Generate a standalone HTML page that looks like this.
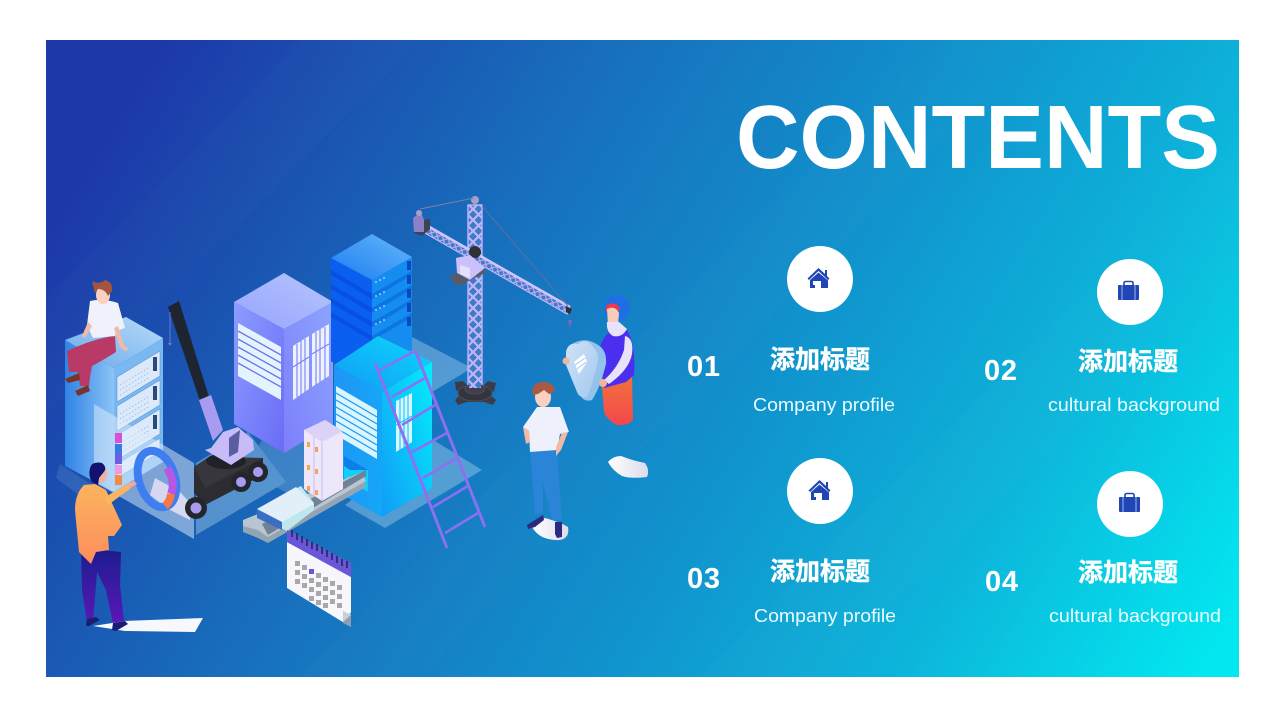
<!DOCTYPE html>
<html><head><meta charset="utf-8"><style>
html,body{margin:0;padding:0;background:#fff;width:1280px;height:720px;overflow:hidden}
svg{display:block}
.n{font:bold 29px "Liberation Sans","Noto Sans CJK SC",sans-serif;fill:#fff}
.h{font:bold 25px "Liberation Sans","Noto Sans CJK SC",sans-serif;fill:#fff;stroke:#fff;stroke-width:.4}
.s{font:18px "Liberation Sans","Noto Sans CJK SC",sans-serif;fill:#eafcff}
</style></head><body>
<svg width="1280" height="720" viewBox="0 0 1280 720" xmlns="http://www.w3.org/2000/svg">
<defs>
<linearGradient id="bg" gradientUnits="userSpaceOnUse" x1="150" y1="70" x2="1190" y2="700">
<stop offset="0" stop-color="#1d39a9"/><stop offset=".14" stop-color="#1a52b1"/><stop offset=".32" stop-color="#1870bd"/><stop offset=".55" stop-color="#1190cc"/><stop offset=".78" stop-color="#0db4da"/><stop offset="1" stop-color="#02e8f0"/></linearGradient>
<linearGradient id="srvL" x1="0" x2="1" y1="0" y2="0"><stop offset="0" stop-color="#2f82e6"/><stop offset="1" stop-color="#8cc4f5"/></linearGradient>
<linearGradient id="srvT" x1="0" x2="1" y1="1" y2="0"><stop offset="0" stop-color="#69a9ea"/><stop offset="1" stop-color="#b7dcf8"/></linearGradient>
<linearGradient id="lavL" x1="0" x2="1" y1="0" y2="1"><stop offset="0" stop-color="#8d9cff"/><stop offset="1" stop-color="#6a6cf6"/></linearGradient>
<linearGradient id="lavR" x1="0" x2="1" y1="1" y2="0"><stop offset="0" stop-color="#7d7ffa"/><stop offset="1" stop-color="#8da4ff"/></linearGradient>
<linearGradient id="lavT" x1="0" x2="1" y1="1" y2="0"><stop offset="0" stop-color="#98a4fd"/><stop offset="1" stop-color="#b5c4ff"/></linearGradient>
<linearGradient id="bluT" x1="0" x2="1" y1="1" y2="0"><stop offset="0" stop-color="#1e7df0"/><stop offset="1" stop-color="#63b8fb"/></linearGradient>
<linearGradient id="cyL" x1="0" x2="1" y1="0" y2="0"><stop offset="0" stop-color="#1f95f5"/><stop offset="1" stop-color="#15a6f8"/></linearGradient>
<linearGradient id="cyR" x1="0" x2="1" y1="1" y2="0"><stop offset="0" stop-color="#119cf6"/><stop offset="1" stop-color="#04edfb"/></linearGradient>
<linearGradient id="cyT" x1="0" x2="1" y1="1" y2="0"><stop offset="0" stop-color="#129af6"/><stop offset="1" stop-color="#0cd8fa"/></linearGradient>
<linearGradient id="org" x1="0" x2="0" y1="0" y2="1"><stop offset="0" stop-color="#fbb45f"/><stop offset="1" stop-color="#fc8d5c"/></linearGradient>
<linearGradient id="pur" x1="0" x2="0" y1="0" y2="1"><stop offset="0" stop-color="#1b1c8e"/><stop offset="1" stop-color="#5a18b8"/></linearGradient>
<linearGradient id="red" x1="0" x2="0" y1="0" y2="1"><stop offset="0" stop-color="#f0743a"/><stop offset="1" stop-color="#f5464e"/></linearGradient>
<linearGradient id="shield" x1="0" x2="1" y1="0" y2="1"><stop offset="0" stop-color="#cfe3f8"/><stop offset="1" stop-color="#a4c8ee"/></linearGradient>
<linearGradient id="blob" x1="0" x2="1" y1="0" y2="0"><stop offset="0" stop-color="#fff"/><stop offset="1" stop-color="#dcdcec"/></linearGradient>
<pattern id="lat" width="11" height="11" patternUnits="userSpaceOnUse"><rect width="11" height="11" fill="#3f7cc8"/><path d="M0 0L11 11M11 0L0 11" stroke="#c2b4f8" stroke-width="2.2"/></pattern>
<pattern id="lat2" width="7" height="7" patternUnits="userSpaceOnUse" patternTransform="rotate(30)"><rect width="7" height="7" fill="#3f78c4"/><path d="M0 0L7 7M7 0L0 7" stroke="#b8acf5" stroke-width="1.3"/></pattern>
</defs>

<rect x="46" y="40" width="1193" height="637" fill="url(#bg)"/>
<g fill="#fff" opacity=".012">
<polygon points="46,300 300,40 420,40 46,420"/>
<polygon points="300,677 940,40 1040,40 420,677"/>
<polygon points="700,677 1239,140 1239,260 820,677"/>
</g>

<!-- title -->
<text x="736" y="168" font-family="Liberation Sans,sans-serif" font-weight="bold" font-size="90" fill="#fff" textLength="484" lengthAdjust="spacingAndGlyphs">CONTENTS</text>

<!-- floors -->
<g fill="#a8d4ee" opacity=".42">
<polygon points="410,336 472,368 432,392 385,380"/>
<polygon points="430,438 482,470 385,528 345,505"/>
<polygon points="196,463 248,432 286,482 196,535"/>
<polygon points="60,464 100,490 92,505 56,478" opacity=".35"/>
<polygon points="262,440 345,440 366,460 300,500 245,470" opacity=".6"/>
</g>

<!-- left server -->
<polygon points="65,340 114,368 114,492 65,466" fill="url(#srvL)"/>
<polygon points="114,368 163,338 163,462 114,492" fill="#7ab8f2"/>
<polygon points="126,317 163,338 114,368 65,340" fill="url(#srvT)"/>
<g fill="#dbe9fa" stroke="#5b93d8" stroke-width=".6">
<polygon points="117,377 160,351 160,376 117,402"/>
<polygon points="117,406 160,380 160,405 117,431"/>
<polygon points="117,435 160,409 160,434 117,460"/>
<polygon points="117,464 160,438 160,452 117,478"/>
</g>
<g stroke="#9fc0ea" stroke-width="1" stroke-dasharray="1.500 2">
<line x1="120" y1="385" x2="150" y2="367"/><line x1="120" y1="390" x2="150" y2="372"/><line x1="120" y1="395" x2="150" y2="377"/>
<line x1="120" y1="414" x2="150" y2="396"/><line x1="120" y1="419" x2="150" y2="401"/><line x1="120" y1="424" x2="150" y2="406"/>
<line x1="120" y1="443" x2="150" y2="425"/><line x1="120" y1="448" x2="150" y2="430"/><line x1="120" y1="453" x2="150" y2="435"/>
</g>
<g fill="#2a4a7a"><rect x="153" y="357" width="4" height="14"/><rect x="153" y="386" width="4" height="14"/><rect x="153" y="415" width="4" height="14"/></g>
<!-- sitting man -->
<path d="M67,351 Q95,338 115,336 L116,352 Q100,362 92,366 L90,377 L89,386 L80,386 L78,372 L69,372 Z" fill="#b93a66"/>
<path d="M65,379 L79,373 L80,380 L68,383 Z" fill="#7a3328"/>
<path d="M75,391 L88,385 L90,391 L78,396 Z" fill="#7a3328"/>
<path d="M90,301 Q103,298 118,303 L125,328 L116,331 L115,336 L93,338 L87,325 Z" fill="#f1f1fb"/>
<path d="M88,322 L82,336 L85,338 L92,326 Z" fill="#f3b9a8"/>
<path d="M118,326 L124,345 L129,349 L125,351 L120,347 L114,328 Z" fill="#f3b9a8"/>
<ellipse cx="103" cy="295" rx="7" ry="9" fill="#fbd0bf"/>
<path d="M92,281 Q99,285 105,280 Q113,282 112,291 L108,296 Q105,289 98,289 L95,293 Z" fill="#a5553f"/>

<!-- glass panel -->
<polygon points="94,404 194,463 194,539 94,482" fill="#dfeefa" opacity=".5"/>
<rect x="115" y="433" width="7" height="10" fill="#d84fd8"/><rect x="115" y="444" width="7" height="10" fill="#3a7ae0"/><rect x="115" y="454" width="7" height="10" fill="#6c60e0"/><rect x="115" y="465" width="7" height="9" fill="#ea9ae8"/><rect x="115" y="475" width="7" height="10" fill="#f58a42"/>
<polygon points="155,478 180,492 192,505 190,520 170,510 150,495" fill="#e6e2f6" opacity=".85"/>
<!-- donut -->
<ellipse cx="157" cy="479" rx="18" ry="29" transform="rotate(-18 157 479)" fill="none" stroke="#3f7ef0" stroke-width="8"/>
<path d="M167,468 Q176,482 171,494" fill="none" stroke="#b657e6" stroke-width="8"/>
<path d="M171,494 Q170,502 165,506" fill="none" stroke="#f5774a" stroke-width="8"/>

<!-- crane truck -->
<polygon points="168,307 179,301 209,397 200,401" fill="#1f2530"/>
<line x1="170" y1="312" x2="170" y2="344" stroke="#6a78c8" stroke-width="1"/>
<polygon points="168,343 172,343 170,346" fill="#8a70c8"/>
<polygon points="199,400 211,395 223,430 213,441" fill="#a99cf0"/>
<polygon points="194,467 209,457 263,458 263,475 205,505 194,493" fill="#2c2c32"/>
<polygon points="194,467 209,457 263,458 205,488" fill="#36363c"/>
<ellipse cx="226" cy="461" rx="20" ry="8" fill="#202228"/>
<polygon points="205,450 211,448 223,432 238,427 253,440 254,450 231,465" fill="#c7bcf8"/>
<polygon points="229,438 240,430 238,452 229,457" fill="#5a5ea0"/>
<circle cx="196" cy="508" r="11" fill="#24262c"/><circle cx="196" cy="508" r="5.500" fill="#a89cf0"/>
<circle cx="241" cy="482" r="10" fill="#24262c"/><circle cx="241" cy="482" r="5" fill="#a89cf0"/>
<circle cx="258" cy="472" r="10" fill="#24262c"/><circle cx="258" cy="472" r="5" fill="#a89cf0"/>

<!-- lavender building -->
<polygon points="234,302 284,329 284,453 234,424" fill="url(#lavL)"/>
<polygon points="284,329 333,302 333,424 284,453" fill="url(#lavR)"/>
<polygon points="284,273 333,302 284,329 234,302" fill="url(#lavT)"/>
<polygon points="238,323 281,347 281,400 238,376" fill="#e4f4ff"/>
<g stroke="#7272e8" stroke-width="1.300"><line x1="238" y1="331" x2="281" y2="355"/><line x1="238" y1="339" x2="281" y2="363"/><line x1="238" y1="347" x2="281" y2="371"/><line x1="238" y1="355" x2="281" y2="379"/><line x1="238" y1="363" x2="281" y2="387"/></g>
<g fill="#eef2ff"><polygon points="293,346 309,336 309,389 293,400"/><polygon points="312,334 329,324 329,376 312,387"/></g>
<g stroke="#7a80f4" stroke-width="1.100"><line x1="297" y1="344" x2="297" y2="397"/><line x1="301" y1="341" x2="301" y2="395"/><line x1="305" y1="339" x2="305" y2="392"/><line x1="316" y1="332" x2="316" y2="385"/><line x1="320" y1="329" x2="320" y2="382"/><line x1="325" y1="327" x2="325" y2="380"/><line x1="293" y1="367" x2="309" y2="357"/><line x1="312" y1="354" x2="329" y2="344"/></g>

<!-- blue stack -->
<polygon points="331,258 372,280 372,362 331,362" fill="#0a5ff0"/>
<polygon points="372,280 412,257 412,350 372,362" fill="#158cf0"/>
<g fill="#0847d8" opacity=".6"><polygon points="331,270 372,294 372,299 331,275"/><polygon points="331,284 372,308 372,313 331,289"/><polygon points="331,298 372,322 372,327 331,303"/><polygon points="331,312 372,336 372,341 331,317"/></g>
<g fill="#0a6be0" opacity=".7"><polygon points="372,294 412,271 412,275 372,299"/><polygon points="372,308 412,285 412,289 372,313"/><polygon points="372,322 412,299 412,303 372,327"/><polygon points="372,336 412,313 412,317 372,341"/></g>
<polygon points="372,234 412,257 372,280 331,258" fill="url(#bluT)"/>
<g fill="#0d47c0"><rect x="407" y="261" width="4" height="9"/><rect x="407" y="275" width="4" height="9"/><rect x="407" y="289" width="4" height="9"/><rect x="407" y="303" width="4" height="9"/><rect x="407" y="317" width="4" height="9"/></g>
<g fill="#bfe0ff"><circle cx="376" cy="282" r=".9"/><circle cx="380" cy="280" r=".9"/><circle cx="384" cy="278" r=".9"/><circle cx="376" cy="296" r=".9"/><circle cx="380" cy="294" r=".9"/><circle cx="384" cy="292" r=".9"/><circle cx="376" cy="310" r=".9"/><circle cx="380" cy="308" r=".9"/><circle cx="384" cy="306" r=".9"/><circle cx="376" cy="324" r=".9"/><circle cx="380" cy="322" r=".9"/><circle cx="384" cy="320" r=".9"/></g>

<!-- cyan building -->
<polygon points="334,365 382,392 382,517 334,490" fill="url(#cyL)"/>
<polygon points="382,392 432,362 432,488 382,517" fill="url(#cyR)"/>
<polygon points="378,336 432,362 382,392 334,365" fill="url(#cyT)"/>
<polygon points="336,386 377,410 377,459 336,435" fill="#d9f5ff"/>
<g stroke="#1d9af5" stroke-width="1.300"><line x1="336" y1="393" x2="377" y2="417"/><line x1="336" y1="400" x2="377" y2="424"/><line x1="336" y1="407" x2="377" y2="431"/><line x1="336" y1="414" x2="377" y2="438"/><line x1="336" y1="421" x2="377" y2="445"/><line x1="336" y1="428" x2="377" y2="452"/></g>
<polygon points="396,401 412,393 412,442 396,452" fill="#d8f8ff"/>
<g stroke="#18c4f8" stroke-width="1.100"><line x1="400" y1="399" x2="400" y2="450"/><line x1="404" y1="397" x2="404" y2="447"/><line x1="408" y1="395" x2="408" y2="445"/><line x1="396" y1="425" x2="412" y2="416"/></g>
<polygon points="344,456 368,470 368,492 344,478" fill="#0fd0f8"/>
<polygon points="344,456 368,470 350,470 344,466" fill="#0c7eea"/>

<!-- conveyor -->
<polygon points="243,523 364,478 366,487 268,543 258,538 243,532" fill="#94a4b4"/>
<polygon points="243,520 362,472 366,481 268,537 258,530 243,526" fill="#b9c6d0"/>
<polygon points="262,524 366,470 366,476 268,535" fill="#6f8296"/>
<!-- slab stack -->
<polygon points="257,509 301,486 314,503 314,510 287,531 257,516" fill="#bfe8ee"/>
<polygon points="257,509 296,487 314,504 282,522" fill="#e2eef8"/>
<polygon points="257,509 282,522 282,530 257,518" fill="#3b6dc4"/>
<!-- tall modules -->
<polygon points="304,430 326,421 343,433 343,489 322,501 304,489" fill="#eee6fb"/>
<polygon points="304,430 325,420 343,431 322,442" fill="#dcd2f8"/>
<line x1="314" y1="436" x2="314" y2="496" stroke="#cabcf0" stroke-width="1"/>
<line x1="322" y1="442" x2="322" y2="500" stroke="#cabcf0" stroke-width="1"/>
<g fill="#f5a35c"><rect x="307" y="442" width="3" height="5"/><rect x="307" y="465" width="3" height="5"/><rect x="307" y="486" width="3" height="5"/><rect x="315" y="447" width="3" height="5"/><rect x="315" y="469" width="3" height="5"/><rect x="315" y="490" width="3" height="5"/></g>

<!-- tower crane -->
<rect x="468" y="205" width="14" height="182" fill="url(#lat)" stroke="#c2b4f8" stroke-width="1.400"/>
<polygon points="426,226 570,308 567,314 423,232" fill="url(#lat2)" stroke="#c9bdfa" stroke-width="1"/>
<line x1="426" y1="225" x2="570" y2="307" stroke="#cfc5fb" stroke-width="2.500"/>
<polygon points="414,221 430,219 430,229 422,236 414,233" fill="#3c4452"/>
<polygon points="413,218 421,212 424,220 424,232 414,232" fill="#8c80c8"/>
<circle cx="419" cy="213" r="3" fill="#a8a0c8"/><circle cx="475" cy="200" r="4" fill="#a8a0c8"/>
<line x1="420" y1="209" x2="474" y2="198" stroke="#7a82a8" stroke-width="1"/>
<line x1="482" y1="206" x2="568" y2="306" stroke="#5c6ea8" stroke-width="1"/>
<polygon points="566,306 572,309 570,314 566,312" fill="#2d3136"/>
<polygon points="568,320 572,320 570,328" fill="#8464b8"/>
<circle cx="475" cy="252" r="6" fill="#2d3136"/>
<polygon points="456,258 470,255 485,268 470,280 457,273" fill="#ccc0fa"/>
<polygon points="449,277 458,286 485,273 485,268 470,280 457,273" fill="#585b66"/>
<polygon points="460,265 470,268 470,278 460,274" fill="#fff" opacity=".5"/>
<!-- base -->
<path d="M455,382 L463,381 L468,386 L483,386 L488,381 L496,383 L494,391 L489,394 L496,400 L493,405 L484,402 L467,402 L458,405 L455,400 L461,394 L456,390Z" fill="#3b3c46"/>
<ellipse cx="475" cy="393" rx="17" ry="8" fill="#33343e" stroke="#4c4e5a"/>
<ellipse cx="475" cy="389" rx="10" ry="5" fill="#3f404c" stroke="#4c4e5a"/>
<rect x="469" y="372" width="12" height="16" fill="url(#lat)"/>

<!-- ladder -->
<g stroke="#8d6ff0" fill="none"><path d="M375,363 L447,548 M415,350 L485,527" stroke-width="3"/>
<path stroke-width="2.600" d="M380,370 L413,352 M392,397 L425,378 M402,425 L435,405 M412,452 L447,433 M423,478 L457,458 M433,507 L468,486 M445,533 L478,513"/></g>

<!-- orange man -->
<path d="M81,548 L121,552 L120,585 L124,622 L113,624 L106,590 L97,572 L93,622 L87,622 L82,590 Z" fill="url(#pur)"/>
<path d="M84,485 L95,484 L106,490 L122,525 L114,536 L108,536 L109,550 L96,552 L91,564 L79,552 L75,510 Q75,494 84,485Z" fill="url(#org)"/>
<path d="M105,497 L128,484 L131,488 L108,505 Z" fill="#fbb45f"/>
<path d="M127,484 L134,481 L137,484 L130,488 Z" fill="#f6a99a"/>
<ellipse cx="100" cy="474" rx="7" ry="9" fill="#f2b0a0"/>
<path d="M90,468 Q92,461 102,463 Q108,468 103,473 L99,478 L98,485 L92,482 Q88,476 90,468Z" fill="#12136e"/>
<!-- shadow -->
<polygon points="93,626 125,621 203,618 195,632 125,631" fill="#f6f8fc"/>
<path d="M87,619 L96,617 L100,620 L89,626 L86,626 Z" fill="#1a1e70"/>
<path d="M113,623 L125,621 L128,624 L116,631 L112,630 Z" fill="#1a1e70"/>

<!-- calendar -->
<polygon points="287,542 351,577 351,627 287,588" fill="#f6f6fb"/>
<polygon points="287,530 351,563 351,577 287,542" fill="#6a56d6"/>
<polygon points="343,622 351,612 351,627 343,623" fill="#8aa0b0"/><polygon points="343,611 351,615 343,622" fill="#c5d0d8"/>
<g stroke="#23285c" stroke-width="1.600"><line x1="292" y1="530" x2="292" y2="537"/><line x1="297" y1="533" x2="297" y2="540"/><line x1="302" y1="536" x2="302" y2="543"/><line x1="307" y1="539" x2="307" y2="546"/><line x1="312" y1="542" x2="312" y2="549"/><line x1="317" y1="544" x2="317" y2="551"/><line x1="322" y1="547" x2="322" y2="554"/><line x1="327" y1="550" x2="327" y2="557"/><line x1="332" y1="553" x2="332" y2="560"/><line x1="337" y1="556" x2="337" y2="563"/><line x1="342" y1="559" x2="342" y2="566"/><line x1="347" y1="561" x2="347" y2="568"/></g>
<g fill="#a8a8ac" transform="translate(0,3)">
<rect x="295" y="558" width="5" height="5"/><rect x="302" y="562" width="5" height="5"/><rect x="309" y="566" width="5" height="5" fill="#6a56d6"/><rect x="316" y="570" width="5" height="5"/><rect x="323" y="574" width="5" height="5"/><rect x="330" y="578" width="5" height="5"/><rect x="337" y="582" width="5" height="5"/>
<rect x="295" y="567" width="5" height="5"/><rect x="302" y="571" width="5" height="5"/><rect x="309" y="575" width="5" height="5"/><rect x="316" y="579" width="5" height="5"/><rect x="323" y="583" width="5" height="5"/><rect x="330" y="587" width="5" height="5"/><rect x="337" y="591" width="5" height="5"/>
<rect x="295" y="576" width="5" height="5"/><rect x="302" y="580" width="5" height="5"/><rect x="309" y="584" width="5" height="5"/><rect x="316" y="588" width="5" height="5"/><rect x="323" y="592" width="5" height="5"/><rect x="330" y="596" width="5" height="5"/><rect x="337" y="600" width="5" height="5"/>
<rect x="309" y="593" width="5" height="5"/><rect x="316" y="597" width="5" height="5"/><rect x="323" y="600" width="5" height="5"/>
</g>

<!-- standing man -->
<path d="M532,527 Q538,519 545,518 Q560,522 568,527 Q570,538 560,540 Q540,541 532,527Z" fill="url(#blob)"/>
<path d="M530,451 L557,449 L562,520 L552,520 L543,483 L543,513 L535,515 Z" fill="#2a84d8"/>
<path d="M527,525 L543,515 L544,520 L535,527 L528,529Z" fill="#2c2a80"/>
<path d="M555,522 L562,522 L562,537 L557,538 L555,534 Z" fill="#2c2a80"/>
<path d="M523,427 L537,407 L560,407 L569,432 L560,434 L557,450 L530,452 L529,431 Z" fill="#eef0fb"/>
<path d="M523,427 L529,431 L530,442 L526,444Z M562,433 L568,432 L561,450 L556,456 L556,447 Z" fill="#f3b9a8"/>
<ellipse cx="543" cy="397" rx="8" ry="10" fill="#fad1c1"/>
<path d="M532,392 Q533,382 543,382 Q554,382 555,391 L549,394 L544,390 L538,394 L533,395Z" fill="#a85b42"/>

<!-- woman -->
<path d="M602,387 L632,375 L633,420 Q628,426 617,425 Q607,420 604,412 Z" fill="url(#red)"/>
<path d="M600,347 Q604,335 612,330 L627,330 Q636,345 634,375 L626,382 L604,388 Z" fill="#4b2ff0"/>
<circle cx="617" cy="308" r="13" fill="#1f6ee6"/>
<path d="M606,306 Q614,300 620,308 L618,312 L606,312Z" fill="#ee3b4a"/>
<path d="M607,309 Q615,305 619,313 L618,325 L608,325Z" fill="#f6cdbb"/>
<path d="M607,322 L619,322 L627,329 Q622,338 613,336 Q606,332 607,322Z" fill="#e8e2fa"/>
<path d="M625,336 Q634,338 632,354 Q629,370 609,384 L604,380 Q618,368 624,350Z" fill="#e9e2f8"/>
<path d="M572,344 Q585,336 598,345 Q607,350 606,364 Q600,388 592,400 Q586,402 582,398 L568,365Z" fill="#93c2ec"/>
<path d="M566,352 Q568,342 578,344 Q587,337 594,348 Q600,354 597,366 Q592,386 587,397 Q580,399 577,392 L566,365Z" fill="url(#shield)"/>
<polygon points="574,362 584,354 587,362 579,374" fill="#fff"/>
<g stroke="#a6c8ec" stroke-width="1"><line x1="575" y1="365" x2="585" y2="358"/><line x1="577" y1="369" x2="586" y2="362"/></g>
<circle cx="566" cy="361" r="3.500" fill="#f3b49c"/>
<circle cx="603" cy="383" r="4" fill="#f3b49c"/>

<!-- blob -->
<path d="M608,462 Q613,456 621,456 Q634,461 645,463 Q650,470 647,477 Q630,479 622,476 Q613,471 608,462Z" fill="url(#blob)"/>

<!-- circles + icons -->
<circle cx="820" cy="279" r="33" fill="#fff"/>
<circle cx="1130" cy="292" r="33" fill="#fff"/>
<circle cx="820" cy="491" r="33" fill="#fff"/>
<circle cx="1130" cy="504" r="33" fill="#fff"/>

<g fill="#1f46b4">
<path d="M818.500,268 L825,274 V270 H827 V276 L829.500,278.500 L828,280 L818.500,271 L809,280 L807.500,278.500 Z"/>
<path d="M810,280 L818.500,272.500 L828,280.500 V288 H821 V281 H815 V288 H810 Z"/>
<rect x="813" y="281" width="5" height="4" fill="#fff"/>
</g>
<g fill="#1f46b4" transform="translate(1,212)">
<path d="M818.500,268 L825,274 V270 H827 V276 L829.500,278.500 L828,280 L818.500,271 L809,280 L807.500,278.500 Z"/>
<path d="M810,280 L818.500,272.500 L828,280.500 V288 H821 V281 H815 V288 H810 Z"/>
<rect x="813" y="281" width="5" height="4" fill="#fff"/>
</g>

<g>
<rect x="1118" y="285" width="21" height="15" rx="1" fill="#1f46b4"/>
<path d="M1124,285 V283 Q1124,281.500 1126,281.500 H1131 Q1133,281.500 1133,283 V285" fill="none" stroke="#1f46b4" stroke-width="1.600"/>
<rect x="1121.500" y="285" width="1" height="15" fill="#9fb5ea"/><rect x="1134.500" y="285" width="1" height="15" fill="#9fb5ea"/>
</g>
<g transform="translate(1,212)">
<rect x="1118" y="285" width="21" height="15" rx="1" fill="#1f46b4"/>
<path d="M1124,285 V283 Q1124,281.500 1126,281.500 H1131 Q1133,281.500 1133,283 V285" fill="none" stroke="#1f46b4" stroke-width="1.600"/>
<rect x="1121.500" y="285" width="1" height="15" fill="#9fb5ea"/><rect x="1134.500" y="285" width="1" height="15" fill="#9fb5ea"/>
</g>

<!-- text -->
<text class="n" x="687" y="376" textLength="33">01</text>
<text class="n" x="984" y="380" textLength="33">02</text>
<text class="n" x="687" y="588" textLength="33">03</text>
<text class="n" x="985" y="591" textLength="33">04</text>
<text class="h" x="770" y="368">添加标题</text>
<text class="h" x="1078" y="370">添加标题</text>
<text class="h" x="770" y="580">添加标题</text>
<text class="h" x="1078" y="581">添加标题</text>
<text class="s" x="753" y="411" textLength="142" lengthAdjust="spacingAndGlyphs">Company profile</text>
<text class="s" x="1048" y="411" textLength="172" lengthAdjust="spacingAndGlyphs">cultural background</text>
<text class="s" x="754" y="622" textLength="142" lengthAdjust="spacingAndGlyphs">Company profile</text>
<text class="s" x="1049" y="622" textLength="172" lengthAdjust="spacingAndGlyphs">cultural background</text>
</svg>
</body></html>
